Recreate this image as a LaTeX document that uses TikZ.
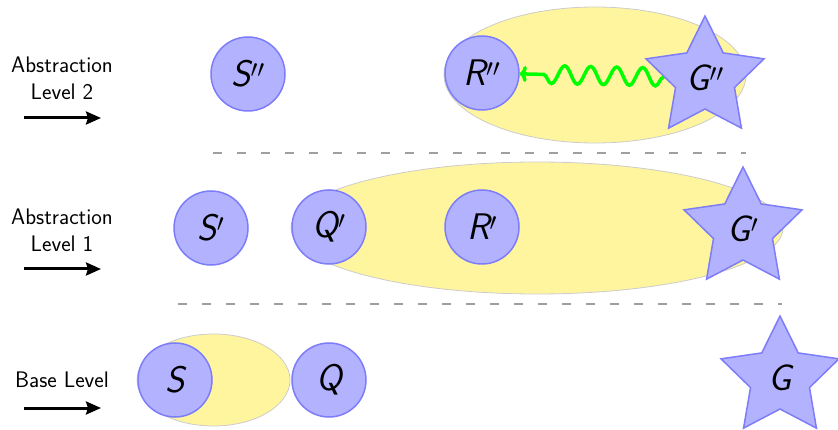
\documentclass[tikz,border=0pt]{standalone}
\usetikzlibrary{shapes.geometric,decorations.pathmorphing,arrows.meta}
\definecolor{ellcol}{RGB}{255,245,158}
\definecolor{nodefill}{RGB}{178,178,255}
\definecolor{nodedraw}{RGB}{125,125,250}
\newcommand\biglbl{\fontsize{37}{40}\selectfont\sffamily\slshape}
\begin{document}
\begin{tikzpicture}[x=1pt,y=-1pt,
  st/.style={circle,draw=nodedraw,fill=nodefill,line width=1.5pt,minimum size=74pt,inner sep=0pt,font=\biglbl},
  gstar/.style={star,star points=5,star point ratio=2,draw=nodedraw,fill=nodefill,line width=1.5pt,minimum size=124pt,inner sep=0pt,label={[font=\biglbl]center:#1}},
  reg/.style={ellipse,draw=gray!40,fill=ellcol,line width=0.8pt,inner sep=0pt},
  lvl/.style={font=\fontsize{22.5}{27}\selectfont\sffamily,align=center,inner sep=0pt},
  larr/.style={line width=3pt,-{Stealth[length=15pt,width=13pt,inset=2pt]}},
  sepline/.style={gray!75,line width=1.1pt,dash pattern=on 9pt off 15pt},
  snk/.style={green,line width=3.5pt,decorate,decoration={snake,amplitude=9pt,segment length=26pt,post length=14pt},-{To[length=7pt,width=16pt]}}]
\useasboundingbox (0,0) rectangle (838,430);

% regions
\node[reg,minimum width=302pt,minimum height=136pt] (E2) at (595,75) {};
\node[reg,minimum width=492pt,minimum height=132pt] (E1) at (537,228) {};
\node[reg,minimum width=153pt,minimum height=92pt] (E0) at (213.5,380) {};

% level 2
\node[st] (S2) at (248,74) {S$''$};
\node[st] (R2) at (482,73) {R$''$};
\node[gstar={G$''$}] (G2) at (705,78) {};
\draw[snk] (G2) -- (R2);

% level 1
\node[st] (S1) at (211,228) {S$'$};
\node[st] (Q1) at (329,227) {Q$'$};
\node[st] (R1) at (482,227) {R$'$};
\node[gstar={G$'$}] (G1) at (743,229) {};

% base
\node[st] (S0) at (175,380) {S};
\node[st] (Q0) at (329,380) {Q};
\node[gstar={G}] (G0) at (780,378) {};

% separators
\coordinate (d1a) at (213,153);
\coordinate (d1b) at (746,153);
\coordinate (d2a) at (178,304);
\coordinate (d2b) at (782,304);
\draw[sepline] (d1a) -- (d1b);
\draw[sepline] (d2a) -- (d2b);

% level labels
\node[lvl] (t2) at (62,78) {Abstraction\\Level 2};
\node[lvl] (t1) at (62,230) {Abstraction\\Level 1};
\node[lvl] (t0) at (62,380) {Base Level};
\coordinate (a2s) at (24,118); \coordinate (a2e) at (101,118);
\coordinate (a1s) at (24,269); \coordinate (a1e) at (101,269);
\coordinate (a0s) at (24,408); \coordinate (a0e) at (101,408);
\draw[larr] (a2s) -- (a2e);
\draw[larr] (a1s) -- (a1e);
\draw[larr] (a0s) -- (a0e);
\end{tikzpicture}
\end{document}
